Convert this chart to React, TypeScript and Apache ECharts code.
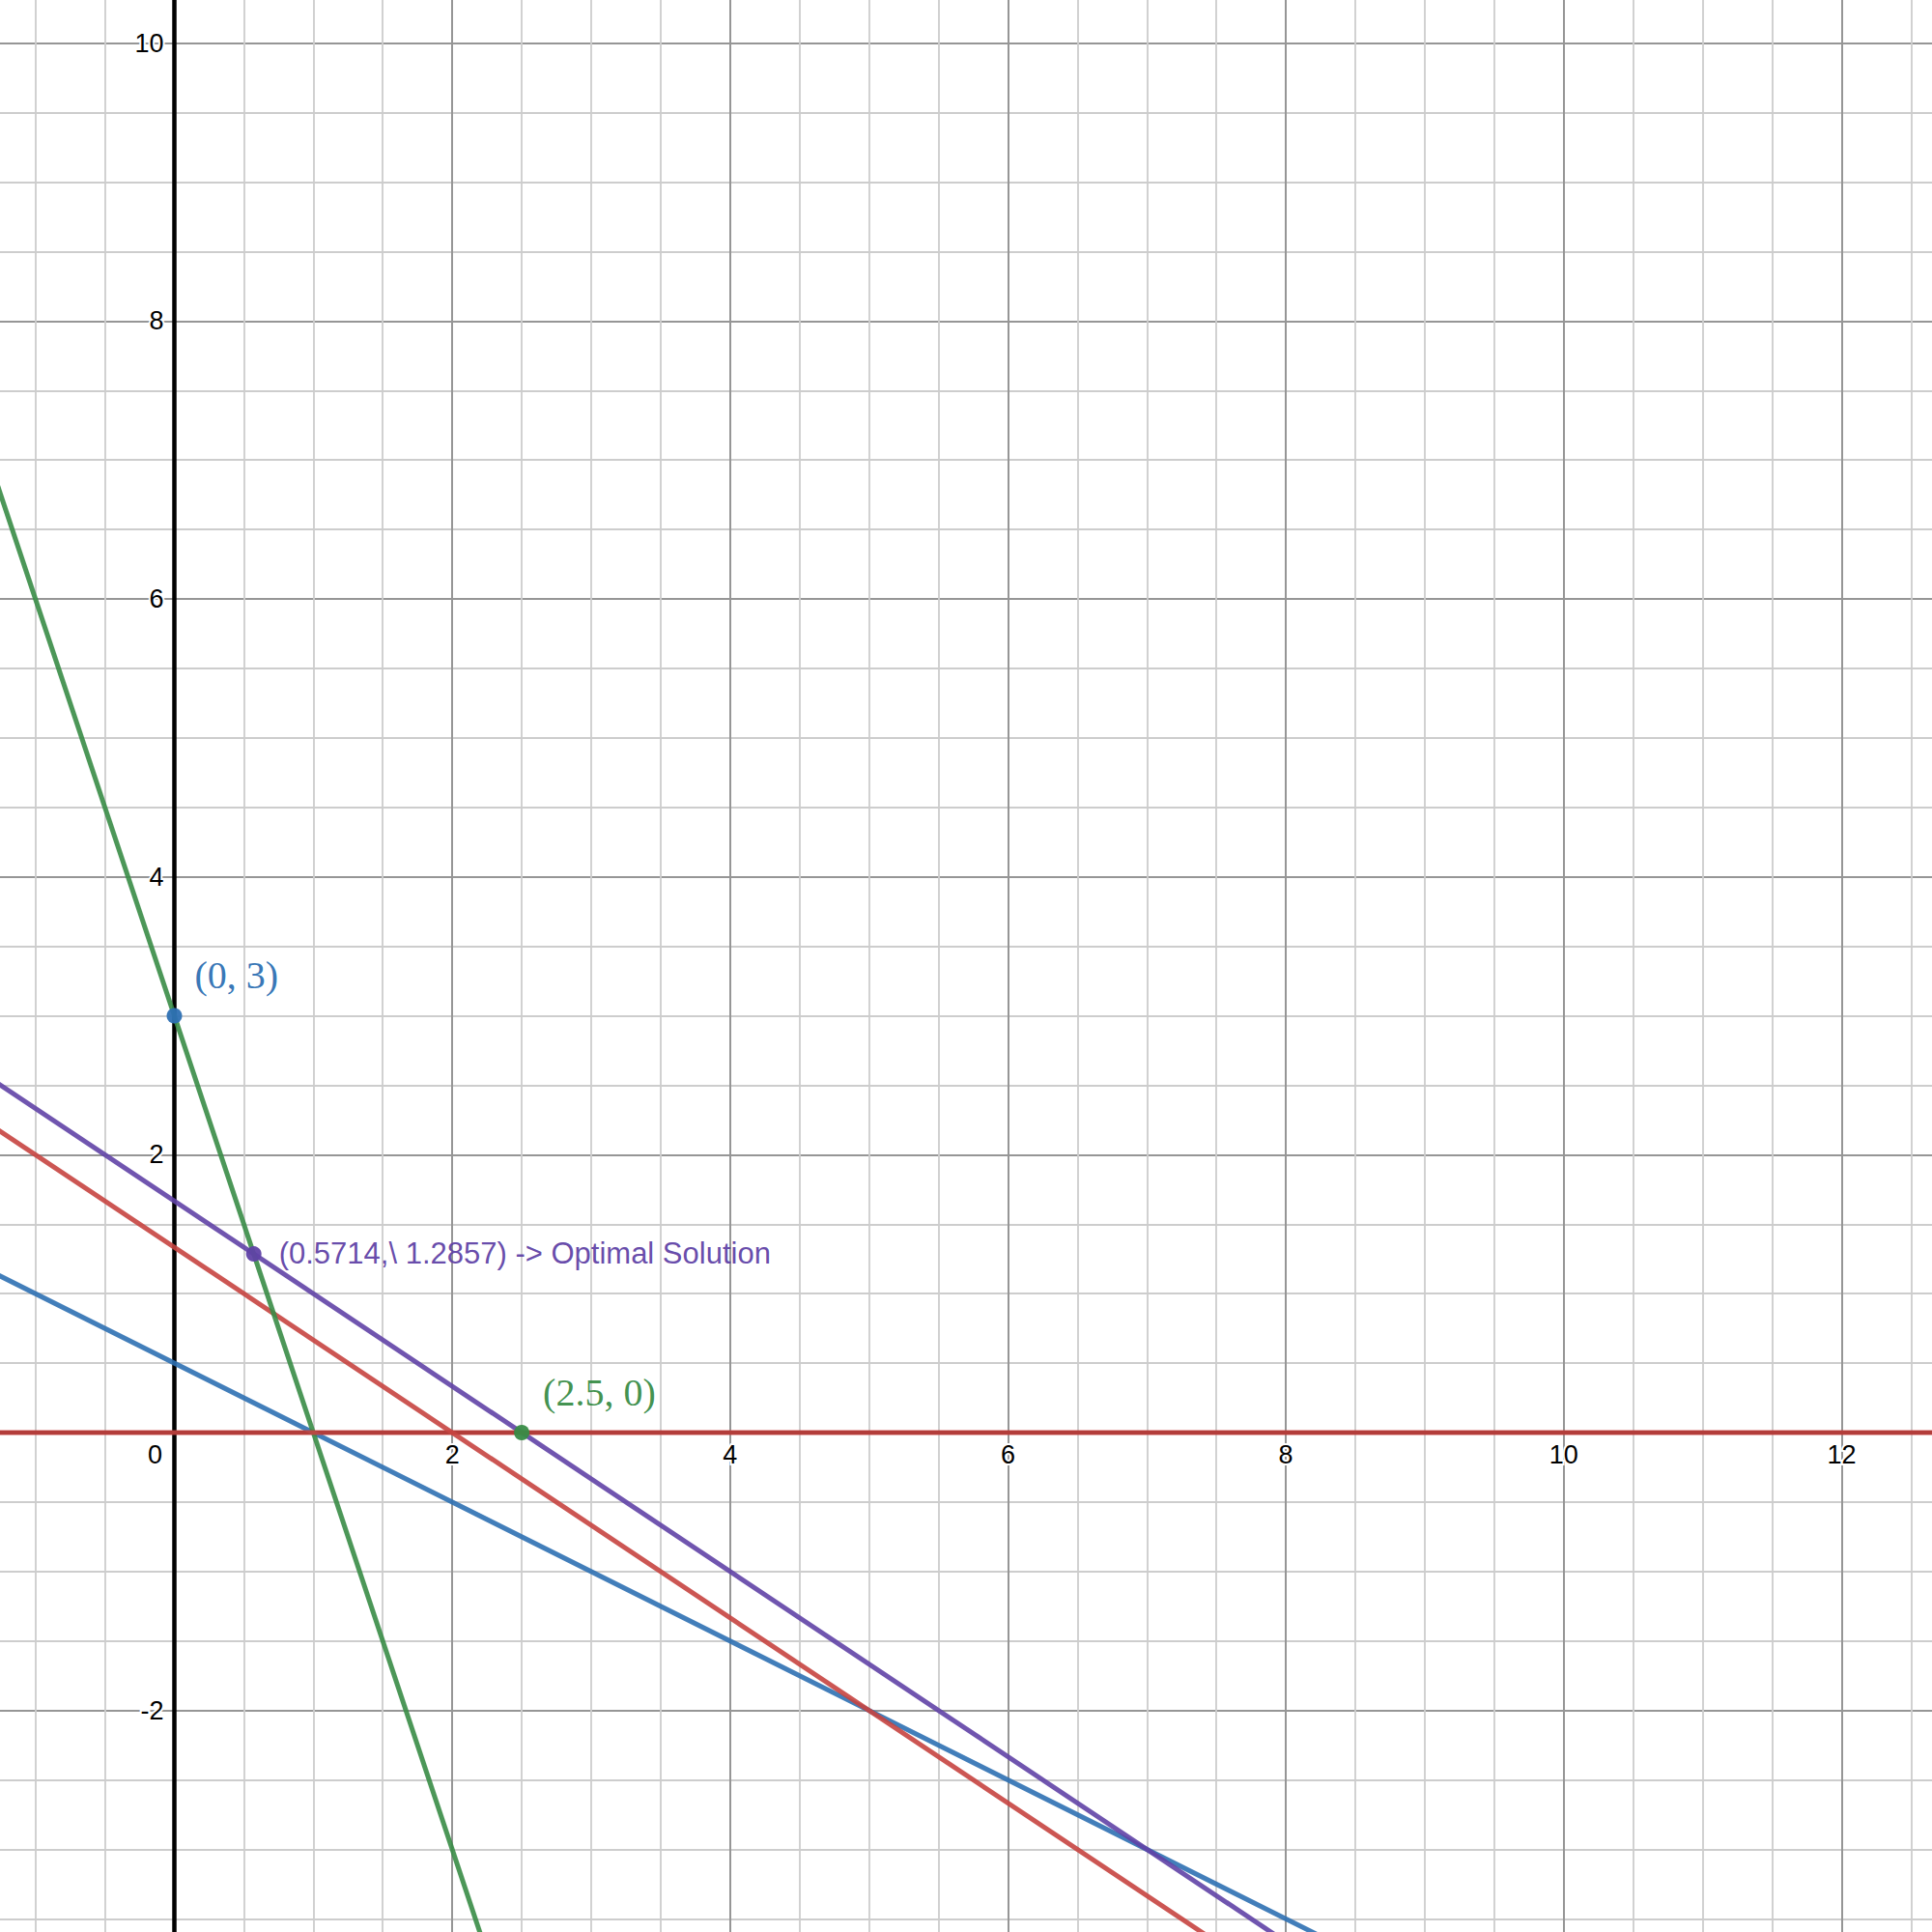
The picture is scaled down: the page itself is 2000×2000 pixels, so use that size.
import React, { useEffect, useRef } from "react";
import * as echarts from "echarts";

// Axis range (chart area extends beyond the visible page so that ticks start on multiples of the interval)
const X_RANGE = [-2, 14];
const Y_RANGE = [-4, 12];

// Constraint lines: two points on each line (x, y)
const greenLine = [[-2, 9], [3, -6]];          // 3x + y = 3
const blueLine = [[-2, 1.5], [14, -6.5]];      // x + 2y = 1
const redLine = [[-2, 2.6667], [14, -8]];      // 2x + 3y = 4
const purpleLine = [[-2, 3], [14, -7.6667]];   // 2x + 3y = 5
const xAxisLine = [[-2, 0], [14, 0]];          // y = 0

// Labelled points
const bluePoint = [[0, 3]];
const purplePoint = [[0.5714, 1.2857]];
const greenPoint = [[2.5, 0]];

const bluePointLabel = "(0, 3)";
const purplePointLabel = "(0.5714,\\ 1.2857) -> Optimal Solution";
const greenPointLabel = "(2.5, 0)";

const RED = "#c74440";
const BLUE = "#2d70b3";
const GREEN = "#388c46";
const PURPLE = "#6042a6";

export default function App() {
  const ref = useRef<HTMLDivElement>(null);

  useEffect(() => {
    if (!ref.current) return;
    const chart = echarts.init(ref.current, null, { renderer: "svg" });

    const unit = 143.83;
    const originX = 180.5;
    const originY = 1483;

    const lineSeries = (data: number[][], color: string, z = 3) => ({
      type: "line",
      data,
      showSymbol: false,
      symbol: "none",
      clip: true,
      z,
      lineStyle: { color, width: 5, opacity: 0.9 },
      silent: true,
    });

    const pointSeries = (
      data: number[][],
      color: string,
      text: string,
      labelStyle: any
    ) => ({
      type: "scatter",
      data,
      symbolSize: 16,
      z: 5,
      itemStyle: { color, opacity: 0.95 },
      label: {
        show: true,
        formatter: () => text,
        position: "right",
        distance: 0,
        color,
        ...labelStyle,
      },
    });

    const labelFont = "Liberation Sans, Arial, sans-serif";
    const mathFont = "Liberation Serif, Times New Roman, serif";
    const majorGrid = { color: "#969696", width: 2 };
    const minorGrid = { color: "#cdcdcd", width: 1.8 };

    chart.setOption({
      animation: false,
      backgroundColor: "#ffffff",
      grid: {
        left: originX + X_RANGE[0] * unit,
        top: originY - Y_RANGE[1] * unit,
        width: (X_RANGE[1] - X_RANGE[0]) * unit,
        height: (Y_RANGE[1] - Y_RANGE[0]) * unit,
        containLabel: false,
        outerBoundsMode: "none",
      },
      xAxis: {
        type: "value",
        position: "bottom",
        offset: -(0 - Y_RANGE[0]) * unit,
        min: X_RANGE[0],
        max: X_RANGE[1],
        interval: 2,
        axisLine: { show: true, onZero: false, lineStyle: { color: "#000", width: 4 } },
        axisTick: { show: false },
        minorTick: { show: false, splitNumber: 4 },
        splitLine: { show: true, lineStyle: majorGrid },
        minorSplitLine: { show: true, lineStyle: minorGrid },
        axisLabel: {
          show: true,
          showMinLabel: false,
          showMaxLabel: false,
          margin: 9,
          fontFamily: labelFont,
          fontSize: 27,
          color: "#000",
          textBorderColor: "#fff",
          textBorderWidth: 4,
          formatter: (v: number) => (v === 0 ? "{o|0}" : String(v)),
          rich: {
            o: {
              fontFamily: labelFont,
              fontSize: 27,
              color: "#000",
              padding: [0, 40, 0, 0],
            },
          },
        },
      },
      yAxis: {
        type: "value",
        position: "left",
        offset: -(0 - X_RANGE[0]) * unit,
        min: Y_RANGE[0],
        max: Y_RANGE[1],
        interval: 2,
        axisLine: { show: true, onZero: false, lineStyle: { color: "#000", width: 4.5 } },
        axisTick: { show: false },
        minorTick: { show: false, splitNumber: 4 },
        splitLine: { show: true, lineStyle: majorGrid },
        minorSplitLine: { show: true, lineStyle: minorGrid },
        axisLabel: {
          show: true,
          showMinLabel: false,
          showMaxLabel: false,
          margin: 11,
          fontFamily: labelFont,
          fontSize: 27,
          color: "#000",
          textBorderColor: "#fff",
          textBorderWidth: 4,
          formatter: (v: number) => (v === 0 ? "" : String(v)),
        },
      },
      series: [
        lineSeries(blueLine, BLUE),
        lineSeries(redLine, RED),
        lineSeries(purpleLine, PURPLE),
        lineSeries(greenLine, GREEN),
        lineSeries(xAxisLine, RED, 4),
        pointSeries(bluePoint, BLUE, bluePointLabel, {
          offset: [13, -42],
          fontFamily: mathFont,
          fontSize: 40,
        }),
        pointSeries(purplePoint, PURPLE, purplePointLabel, {
          offset: [18, -1],
          fontFamily: labelFont,
          fontSize: 31,
        }),
        pointSeries(greenPoint, GREEN, greenPointLabel, {
          offset: [14, -42],
          fontFamily: mathFont,
          fontSize: 40,
        }),
      ],
    });

    return () => chart.dispose();
  }, []);

  return (
    <div
      ref={ref}
      style={{ position: "absolute", left: 0, top: 0, width: 2000, height: 2000 }}
    />
  );
}
